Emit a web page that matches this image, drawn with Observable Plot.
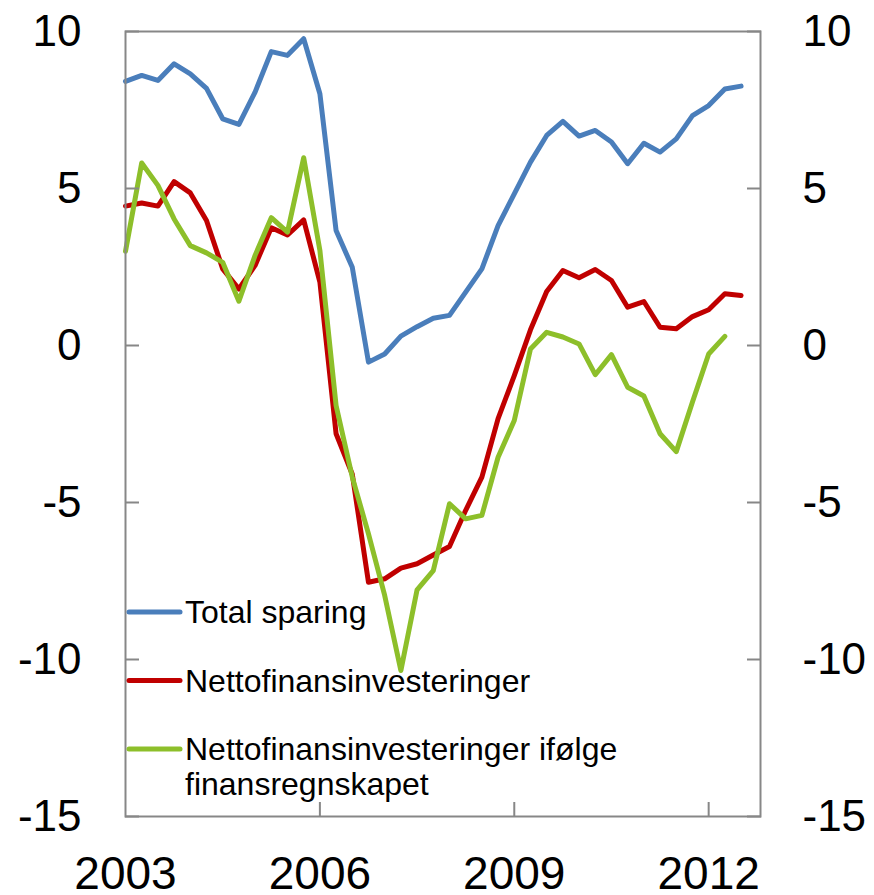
<!DOCTYPE html>
<html><head><meta charset="utf-8">
<script src="https://cdn.jsdelivr.net/npm/d3@7"></script>
<script src="https://cdn.jsdelivr.net/npm/@observablehq/plot@0.6"></script>
<style>
body{margin:0;background:#fff;}
#wrap{position:relative;width:874px;height:895px;overflow:hidden;}
#legend{position:absolute;left:0;top:0;pointer-events:none;}
</style></head><body><div id="wrap"></div>
<script>
// Quarterly data, first quarter = 2003Q1
const startYear = 2003;
const seriesNames = ["Total sparing", "Nettofinansinvesteringer", "Nettofinansinvesteringer ifølge finansregnskapet"];
const seriesColors = ["#4a7ebb", "#c00000", "#8dbf2a"];
const totalSparing = [8.41, 8.60, 8.44, 8.97, 8.65, 8.19, 7.22, 7.04, 8.07, 9.36, 9.24, 9.77, 8.02, 3.66, 2.49, -0.53, -0.27, 0.30, 0.60, 0.87, 0.96, 1.70, 2.44, 3.82, 4.83, 5.84, 6.69, 7.14, 6.67, 6.85, 6.48, 5.79, 6.44, 6.16, 6.58, 7.32, 7.64, 8.17, 8.26];
const nettofinans = [4.44, 4.54, 4.44, 5.22, 4.86, 3.98, 2.44, 1.80, 2.55, 3.75, 3.52, 4.00, 2.02, -2.81, -4.10, -7.54, -7.43, -7.09, -6.95, -6.67, -6.40, -5.25, -4.19, -2.33, -0.96, 0.50, 1.72, 2.39, 2.16, 2.42, 2.07, 1.22, 1.40, 0.58, 0.53, 0.92, 1.14, 1.65, 1.59];
const nettofinansFR = [3.00, 5.81, 5.10, 4.03, 3.18, 2.95, 2.65, 1.41, 2.87, 4.07, 3.61, 5.98, 3.03, -1.91, -4.19, -6.00, -7.96, -10.35, -7.78, -7.17, -5.04, -5.52, -5.41, -3.56, -2.39, -0.11, 0.42, 0.27, 0.05, -0.93, -0.29, -1.33, -1.61, -2.81, -3.38, -1.80, -0.27, 0.29];
const yTicks = [-15, -10, -5, 0, 5, 10];
const xTickLabels = [2003, 2006, 2009, 2012];
const xTickMarks = [2006, 2009, 2012];
const legendLines = [["Total sparing"], ["Nettofinansinvesteringer"], ["Nettofinansinvesteringer ifølge", "finansregnskapet"]];

const rows = [];
[totalSparing, nettofinans, nettofinansFR].forEach((vals, s) => {
  vals.forEach((v, i) => rows.push({series: seriesNames[s], t: startYear + i / 4, value: v}));
});

const fmt = d => String(d);
const gray = "#878787";
const chart = Plot.plot({
  width: 874, height: 895,
  marginLeft: 125, marginRight: 114, marginTop: 31, marginBottom: 79,
  style: {fontFamily: "Arial, 'Liberation Sans', sans-serif", background: "#fff", color: "#000"},
  x: {domain: [2003, 2012.8], label: null},
  y: {domain: [-15, 10], label: null},
  color: {domain: seriesNames, range: seriesColors},
  marks: [
    Plot.lineY(rows, {x: "t", y: "value", stroke: "series", strokeWidth: 5, strokeLinejoin: "round", strokeLinecap: "round"}),
    Plot.frame({stroke: gray, strokeWidth: 2}),
    Plot.axisY(yTicks, {anchor: "left", tickSize: -14, text: null, label: null, stroke: gray, strokeWidth: 2}),
    Plot.axisY(yTicks, {anchor: "right", tickSize: -14, text: null, label: null, stroke: gray, strokeWidth: 2}),
    Plot.axisX(xTickMarks, {anchor: "bottom", tickSize: -14, text: null, label: null, stroke: gray, strokeWidth: 2}),
    Plot.axisY(yTicks, {anchor: "left", tickSize: 0, tickPadding: 44, fontSize: 44, tickFormat: fmt, label: null, fill: "#000"}),
    Plot.axisY(yTicks, {anchor: "right", tickSize: 0, tickPadding: 42, fontSize: 44, tickFormat: fmt, label: null, fill: "#000"}),
    Plot.axisX(xTickLabels, {anchor: "bottom", tickSize: 0, tickPadding: 40, fontSize: 46, tickFormat: fmt, label: null, fill: "#000"})
  ]
});
const wrap = document.getElementById("wrap");
wrap.appendChild(chart);

// Legend inside the plot area (overlay)
const ns = "http://www.w3.org/2000/svg";
const lg = document.createElementNS(ns, "svg");
lg.setAttribute("id", "legend");
lg.setAttribute("width", 874);
lg.setAttribute("height", 895);
let base = 623;
legendLines.forEach((lines, i) => {
  const l = document.createElementNS(ns, "line");
  l.setAttribute("x1", 129); l.setAttribute("x2", 180);
  l.setAttribute("y1", base - 11); l.setAttribute("y2", base - 11);
  l.setAttribute("stroke", seriesColors[i]); l.setAttribute("stroke-width", 5);
  l.setAttribute("stroke-linecap", "round");
  lg.appendChild(l);
  lines.forEach((txt, j) => {
    const t = document.createElementNS(ns, "text");
    t.setAttribute("x", 185); t.setAttribute("y", base + j * 35);
    t.setAttribute("font-size", 32);
    t.setAttribute("font-family", "Arial, 'Liberation Sans', sans-serif");
    t.setAttribute("fill", "#000");
    t.textContent = txt;
    lg.appendChild(t);
  });
  base += 68.5;
});
wrap.appendChild(lg);
</script></body></html>
